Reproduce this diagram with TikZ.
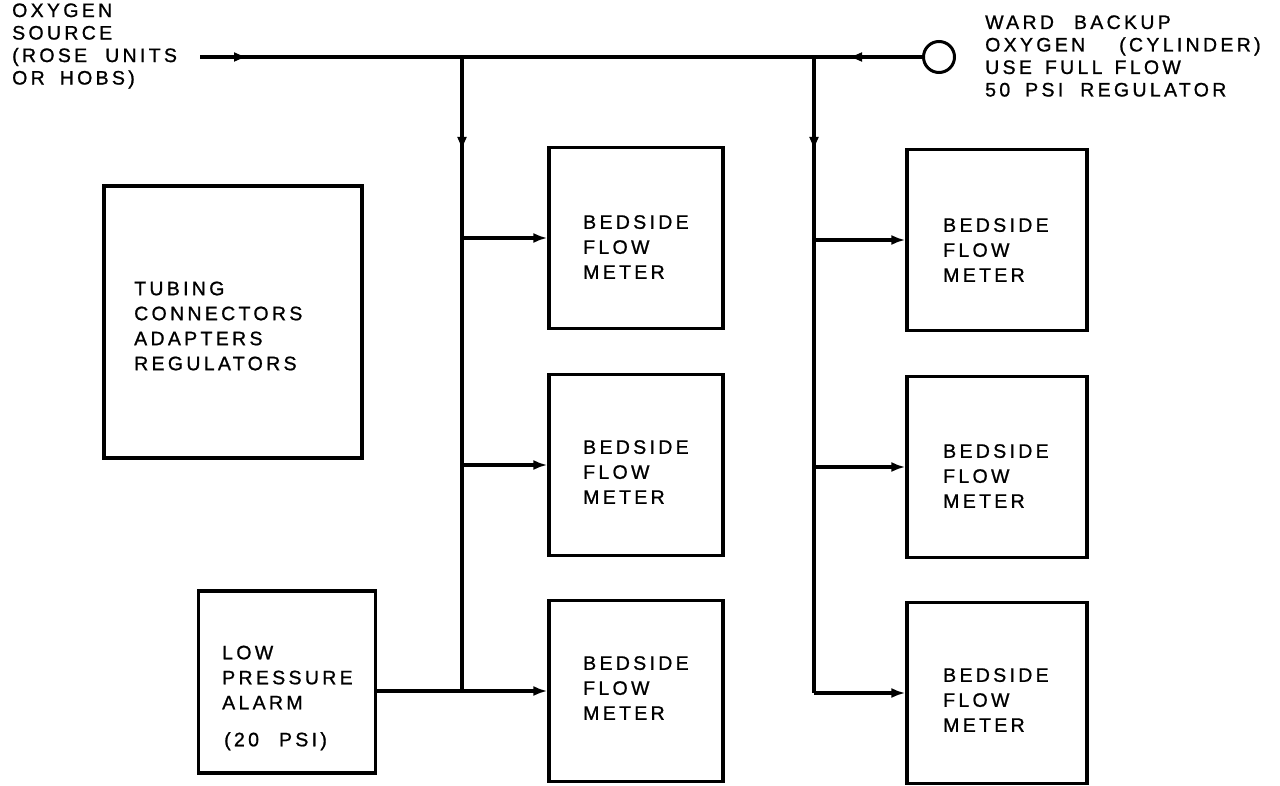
\documentclass[tikz,border=0pt]{standalone}
\usepackage{fontspec}
\setmainfont{Liberation Sans}[LetterSpace=17,FakeBold=1]
\usetikzlibrary{arrows.meta,decorations.markings}
\newcommand\dgfont{\fontsize{19.5}{25}\selectfont}
\newcommand\topfont{\fontsize{19.5}{22.5}\selectfont}
\newcommand\gap[1]{\hspace*{#1pt}}
\begin{document}
\begin{tikzpicture}[x=1pt,y=-1pt,
  pipe/.style={line width=3.2pt},
  tipped/.style={pipe,-{Latex[length=14pt,width=10pt]}},
  midtip/.style={pipe,postaction={decorate},decoration={markings,
      mark=at position #1 with {\arrow{Latex[length=14pt,width=10pt]}}}},
  box/.style={draw,line width=3.2pt,inner sep=0pt},
  meter/.style={box,minimum width=#1,minimum height=181pt},
  txt/.style={align=left,font=\dgfont,inner sep=0pt},
  label/.style={align=left,font=\topfont,inner sep=0pt,anchor=west}]
\useasboundingbox (0,0) rectangle (1280,786);

% sources
\coordinate (src) at (200,57);
\node[draw,circle,line width=3pt,minimum size=31pt,inner sep=0pt] (cyl) at (939,57) {};
\coordinate (jL) at (462,57);
\coordinate (jR) at (814,57);

\node[label] (srcTxt) at (12,46) {OXYGEN\\SOURCE\\(ROSE\gap{18}UNITS\\OR\gap{15}HOBS)};
\node[label] (cylTxt) at (985,56) {WARD\gap{20}BACKUP\\OXYGEN\gap{34}(CYLINDER)\\USE\gap{13}FULL\gap{12}FLOW\\50\gap{15}PSI\gap{17}REGULATOR};

% boxes
\node[box,minimum width=258pt,minimum height=272pt] (tub) at (233,322) {};
\node[txt,anchor=west] (tubT) at (134,326) {TUBING\\CONNECTORS\\ADAPTERS\\REGULATORS};
\node[box,minimum width=177pt,minimum height=182pt] (alarm) at (287,682) {};
\node[txt,anchor=west] (alarmT) at (222,698) {LOW\\PRESSURE\\ALARM\\[12pt]\gap{2}(20\gap{20}PSI)};

\node[meter=174pt] (L1) at (636,238) {};
\node[meter=174pt] (L2) at (636,465) {};
\node[meter=174pt] (L3) at (636,691) {};
\node[meter=180pt] (R1) at (997,240) {};
\node[meter=180pt] (R2) at (997,467) {};
\node[meter=180pt] (R3) at (997,693) {};
\node[txt,anchor=west] (L1t) at (583,247) {BEDSIDE\\FLOW\\METER};
\node[txt,anchor=west] (L2t) at (583,472) {BEDSIDE\\FLOW\\METER};
\node[txt,anchor=west] (L3t) at (583,688) {BEDSIDE\\FLOW\\METER};
\node[txt,anchor=west] (R1t) at (943,250) {BEDSIDE\\FLOW\\METER};
\node[txt,anchor=west] (R2t) at (943,476) {BEDSIDE\\FLOW\\METER};
\node[txt,anchor=west] (R3t) at (943,700) {BEDSIDE\\FLOW\\METER};

% main line
\draw[midtip=48pt] (src) -- (jL);
\draw[pipe] (jL) -- (jR);
\draw[midtip=74pt] (cyl.west) -- (jR);

% left riser
\coordinate (jLb) at (jL |- L3.west);
\draw[midtip=94pt] (jL) -- (jLb);
\draw[tipped] (jL |- L1.west) -- (L1.west);
\draw[tipped] (jL |- L2.west) -- (L2.west);
\draw[tipped] (alarm.east |- L3.west) -- (L3.west);

% right riser
\draw[midtip=94pt] (jR) -- (jR |- R3.west);
\draw[tipped] (jR |- R1.west) -- (R1.west);
\draw[tipped] (jR |- R2.west) -- (R2.west);
\draw[tipped] (jR |- R3.west) -- (R3.west);
\end{tikzpicture}
\end{document}
